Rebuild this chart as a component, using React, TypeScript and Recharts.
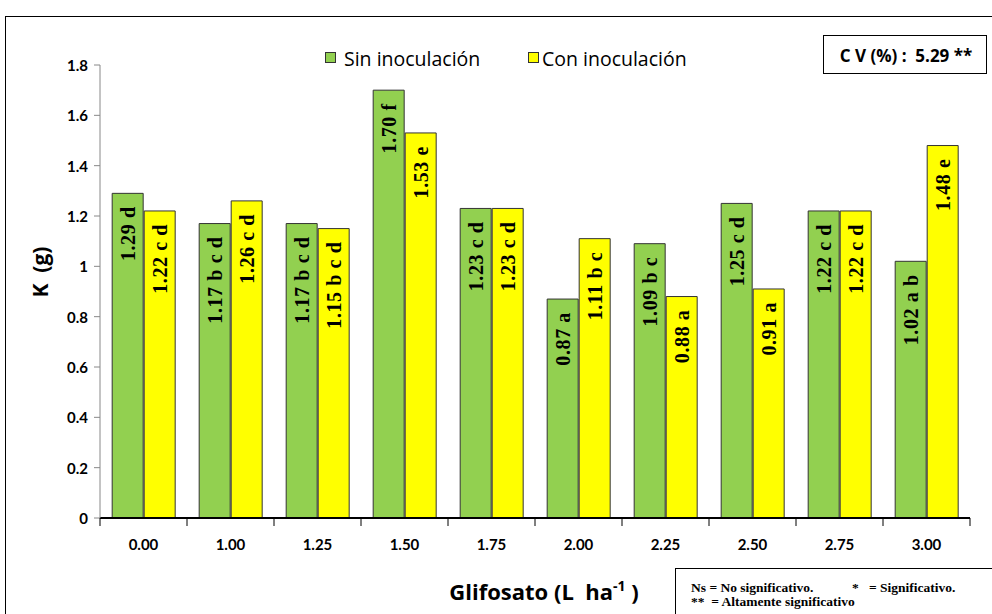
import React from 'react';
import { BarChart, Bar, XAxis, YAxis, LabelList } from 'recharts';

// Glifosato doses (L ha-1)
const doses = ['0.00', '1.00', '1.25', '1.50', '1.75', '2.00', '2.25', '2.50', '2.75', '3.00'];
// K (g) without inoculation and its Tukey letters
const sinValues = [1.29, 1.17, 1.17, 1.70, 1.23, 0.87, 1.09, 1.25, 1.22, 1.02];
const sinLetters = ['d', 'b c d', 'b c d', 'f', 'c d', 'a', 'b c', 'c d', 'c d', 'a b'];
// K (g) with inoculation and its Tukey letters
const conValues = [1.22, 1.26, 1.15, 1.53, 1.23, 1.11, 0.88, 0.91, 1.22, 1.48];
const conLetters = ['c d', 'c d', 'b c d', 'e', 'c d', 'b c', 'a', 'a', 'c d', 'e'];
const yTicks = [0, 0.2, 0.4, 0.6, 0.8, 1, 1.2, 1.4, 1.6, 1.8];

const data = doses.map((d, i) => ({
  dose: d,
  sin: sinValues[i],
  con: conValues[i],
}));

const W = 992;
const H = 614;
const PLOT_LEFT = 100;
const PLOT_RIGHT = 22;
const BAND = (W - PLOT_LEFT - PLOT_RIGHT) / doses.length;

const GREEN = '#92D050';
const YELLOW = '#FFFF00';
const SANS = 'Lato, "Open Sans", sans-serif';
const WIDE = '"Open Sans", Lato, sans-serif';
const SERIF = '"Liberation Serif", "Times New Roman", serif';
const PRE: React.CSSProperties = { whiteSpace: 'pre' };

const makeLabel = (letters: string[]) => (props: any) => {
  const { x, y, width, value, index } = props;
  const cx = x + width / 2;
  const ty = y + 13;
  return (
    <text
      x={cx}
      y={ty}
      transform={`rotate(-90, ${cx}, ${ty})`}
      textAnchor="end"
      dominantBaseline="central"
      fontFamily={SERIF}
      fontWeight="bold"
      fontSize={20}
      letterSpacing={0.6}
      fill="#000"
    >
      {`${Number(value).toFixed(2)} ${letters[index]}`}
    </text>
  );
};

const XTick = (props: any) => {
  const { x, y, payload, index } = props;
  const left = x - BAND / 2;
  const right = x + BAND / 2;
  return (
    <g>
      <line x1={left} y1={y - 8} x2={left} y2={y} stroke="#000" strokeWidth={1} />
      {index === doses.length - 1 && (
        <line x1={right} y1={y - 8} x2={right} y2={y} stroke="#000" strokeWidth={1} />
      )}
      <text x={x} y={y + 24} textAnchor="middle" fontFamily={SANS} fontWeight="bold" fontSize={15} fill="#000">
        {payload.value}
      </text>
    </g>
  );
};

const YTick = (props: any) => {
  const { x, y, payload } = props;
  return (
    <text x={x - 4} y={y} textAnchor="end" dominantBaseline="central" fontFamily={SANS} fontWeight="bold" fontSize={15} fill="#000">
      {String(payload.value)}
    </text>
  );
};

export default function App() {
  return (
    <div style={{ position: 'absolute', left: 0, top: 0, width: W, height: H, background: '#fff', overflow: 'hidden' }}>
      <BarChart
        width={W}
        height={H}
        data={data}
        margin={{ top: 65, right: PLOT_RIGHT, left: 40, bottom: 66 }}
        barCategoryGap="14%"
        barGap={1}
      >
        <XAxis
          dataKey="dose"
          height={30}
          axisLine={{ stroke: '#000', strokeWidth: 2 }}
          tickLine={false}
          tick={<XTick />}
          interval={0}
        />
        <YAxis
          width={60}
          domain={[0, 1.8]}
          ticks={yTicks}
          axisLine={{ stroke: '#888' }}
          tickLine={{ stroke: '#888' }}
          tickSize={6}
          tick={<YTick />}
          interval={0}
        />
        <Bar dataKey="sin" name="Sin inoculación" fill={GREEN} stroke="#333" strokeWidth={1} isAnimationActive={false}>
          <LabelList dataKey="sin" content={makeLabel(sinLetters)} />
        </Bar>
        <Bar dataKey="con" name="Con inoculación" fill={YELLOW} stroke="#333" strokeWidth={1} isAnimationActive={false}>
          <LabelList dataKey="con" content={makeLabel(conLetters)} />
        </Bar>
      </BarChart>
      <svg width={W} height={H} style={{ position: 'absolute', left: 0, top: 0, pointerEvents: 'none' }}>
        {/* outer frame */}
        <rect x={5.5} y={16.5} width={W + 10} height={H + 10} fill="none" stroke="#000" strokeWidth={1} />
        {/* legend */}
        <rect x={325.5} y={52.5} width={10} height={10} fill={GREEN} stroke="#333" strokeWidth={1} />
        <text x={344} y={58} dominantBaseline="central" fontFamily={WIDE} fontSize={19.5} fill="#000">
          Sin inoculación
        </text>
        <rect x={528.5} y={52.5} width={10} height={10} fill={YELLOW} stroke="#333" strokeWidth={1} />
        <text x={542} y={58} dominantBaseline="central" fontFamily={WIDE} fontSize={19.5} fill="#000">
          Con inoculación
        </text>
        {/* CV box */}
        <rect x={823.5} y={35.5} width={163} height={38} fill="#fff" stroke="#000" strokeWidth={1} />
        <text x={906} y={55} textAnchor="middle" dominantBaseline="central" fontFamily={WIDE} fontWeight="bold" fontSize={17} fill="#000" style={PRE}>
          C V (%) :  5.29 **
        </text>
        {/* y axis title */}
        <text
          x={40}
          y={272}
          transform="rotate(-90, 40, 272)"
          textAnchor="middle"
          dominantBaseline="central"
          fontFamily={WIDE}
          fontWeight="bold"
          fontSize={21}
          fill="#000"
          style={PRE}
        >
          K  (g)
        </text>
        {/* x axis title */}
        <text x={544} y={600} textAnchor="middle" fontFamily={WIDE} fontWeight="bold" fontSize={22} fill="#000" style={PRE}>
          Glifosato (L  ha<tspan dy={-9} fontSize={14}>-1</tspan>
          <tspan dy={9}> )</tspan>
        </text>
        {/* significance note */}
        <rect x={675.5} y={568.5} width={330} height={60} fill="#fff" stroke="#000" strokeWidth={1} />
        <text x={691} y={592} fontFamily={SERIF} fontWeight="bold" fontSize={13.5} fill="#000" style={PRE}>
          Ns = No significativo.
        </text>
        <text x={852} y={592} fontFamily={SERIF} fontWeight="bold" fontSize={13.5} fill="#000" style={PRE}>
          *   = Significativo.
        </text>
        <text x={691} y={606} fontFamily={SERIF} fontWeight="bold" fontSize={13.5} fill="#000" style={PRE}>
          **  = Altamente significativo
        </text>
      </svg>
    </div>
  );
}
